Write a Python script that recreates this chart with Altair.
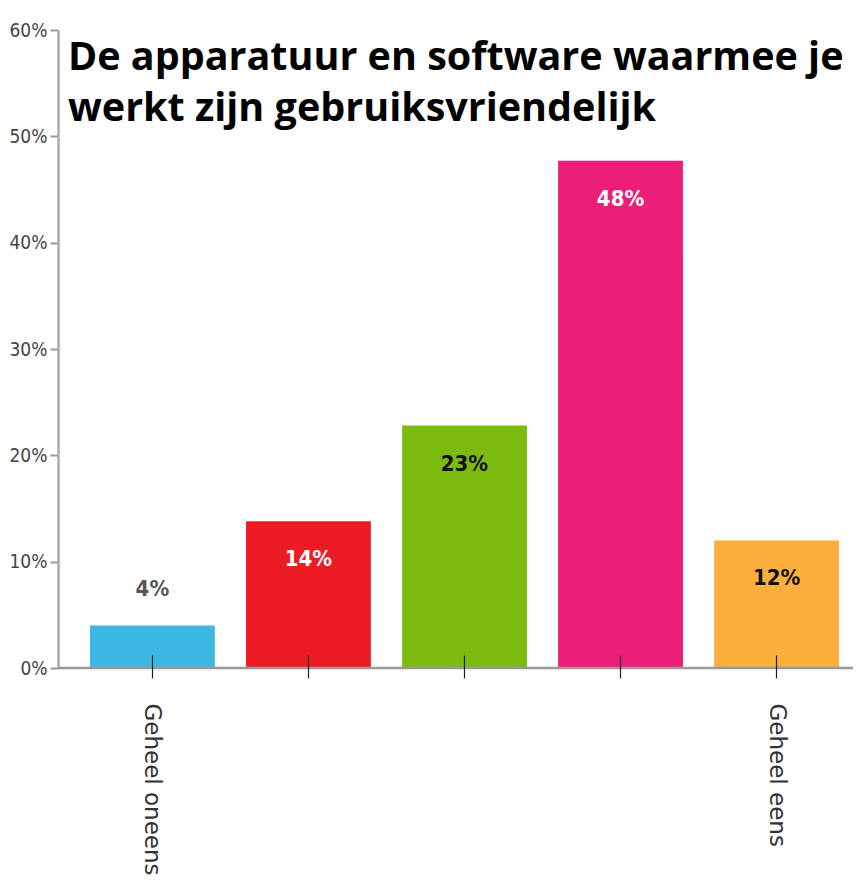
import altair as alt
import pandas as pd

categories = ["Geheel oneens", "2", "3", "4", "Geheel eens"]
values = [4.0, 13.8, 22.8, 47.7, 12.0]
value_labels = ["4%", "14%", "23%", "48%", "12%"]
axis_labels = ["Geheel oneens", "", "", "", "Geheel eens"]
bar_colors = ["#3DB8E2", "#ED1C24", "#7CBB10", "#ED1E79", "#FBAF3D"]
label_colors = ["#555555", "#FFFFFF", "#111111", "#FFFFFF", "#111111"]
y_ticks = [0, 10, 20, 30, 40, 50, 60]
title_lines = ["De apparatuur en software waarmee je", "werkt zijn gebruiksvriendelijk"]

NARROW = "DejaVu Sans Condensed, Liberation Sans Narrow, Roboto"

df = pd.DataFrame({"cat": categories, "value": values, "label": value_labels})

blank = [c for c, l in zip(categories, axis_labels) if l == ""]
blank_js = "[" + ",".join("'%s'" % b for b in blank) + "]"
label_expr = "indexof(%s, datum.value) >= 0 ? '' : datum.label" % blank_js

x_enc = alt.X(
    "cat:N",
    sort=categories,
    scale=alt.Scale(range=[32, 781], paddingInner=0.2, paddingOuter=0),
    axis=alt.Axis(
        title=None,
        labelExpr=label_expr,
        labelAngle=90,
        labelAlign="left",
        labelBaseline="middle",
        labelPadding=25,
        tickSize=23,
        tickColor="#222222",
        tickWidth=1.2,
        offset=-13,
        domain=False,
        labelFont="DejaVu Sans",
        labelFontSize=23,
        labelColor="#333333",
        zindex=1,
    ),
)
y_enc = alt.Y(
    "value:Q",
    scale=alt.Scale(domain=[0, 60], nice=False),
    axis=alt.Axis(
        values=y_ticks,
        title=None,
        labelExpr="datum.value + '%'",
        grid=False,
        domainColor="#aaaaaa",
        domainWidth=2.5,
        tickColor="#999999",
        tickSize=8,
        tickWidth=2,
        labelPadding=3,
        labelFont=NARROW,
        labelFontSize=19,
        labelColor="#444444",
    ),
)

base = alt.Chart(df)

bars = base.mark_bar().encode(
    x=x_enc,
    y=y_enc,
    color=alt.Color("cat:N", scale=alt.Scale(domain=categories, range=bar_colors), legend=None),
)

baseline = alt.Chart(pd.DataFrame({"v": [0]})).mark_rule(color="#999999", strokeWidth=2.5).encode(
    y=alt.Y("v:Q")
)

label_color = alt.Color("cat:N", scale=alt.Scale(domain=categories, range=label_colors), legend=None)

inside = base.transform_filter("datum.value >= 10").mark_text(
    baseline="top", dy=28, font=NARROW, fontWeight="bold", fontSize=22
).encode(x=alt.X("cat:N", sort=categories), y="value:Q", text="label:N", color=label_color)

outside = base.transform_filter("datum.value < 10").mark_text(
    baseline="bottom", dy=-24, font=NARROW, fontWeight="bold", fontSize=22
).encode(x=alt.X("cat:N", sort=categories), y="value:Q", text="label:N", color=label_color)

title = alt.Chart(pd.DataFrame({"a": [0]})).mark_text(
    text=title_lines,
    align="left",
    baseline="alphabetic",
    font="Open Sans",
    fontWeight="bold",
    fontSize=39.5,
    lineHeight=51,
    color="#000000",
).encode(x=alt.value(10), y=alt.value(40))

chart = (
    alt.layer(bars, baseline, inside, outside, title)
    .resolve_scale(color="independent")
    .properties(
        width=795,
        height=638,
        padding={"left": 50, "top": 22, "right": 0, "bottom": 209},
        autosize=alt.AutoSizeParams(type="none"),
        background="#ffffff",
    )
    .configure_view(stroke=None)
)

chart.save("out.html", embed_options={"renderer": "svg", "actions": False})
